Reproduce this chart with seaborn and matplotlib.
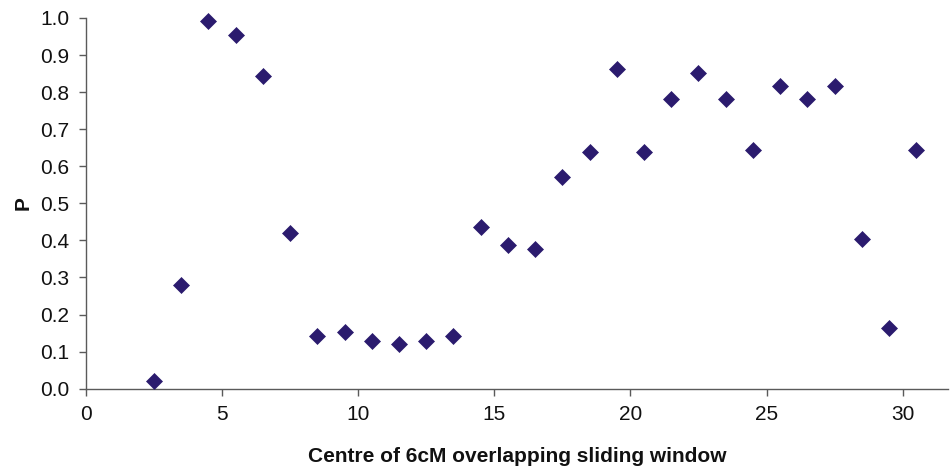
import matplotlib
matplotlib.use("Agg")
import matplotlib.pyplot as plt
import seaborn as sns
import pandas as pd

window_centre = [2.5, 3.5, 4.5, 5.5, 6.5, 7.5, 8.5, 9.5, 10.5, 11.5, 12.5, 13.5,
                 14.5, 15.5, 16.5, 17.5, 18.5, 19.5, 20.5, 21.5, 22.5, 23.5, 24.5,
                 25.5, 26.5, 27.5, 28.5, 29.5, 30.5]
p_values = [0.022, 0.281, 0.993, 0.955, 0.843, 0.419, 0.143, 0.152, 0.129, 0.121,
            0.129, 0.143, 0.437, 0.388, 0.376, 0.570, 0.639, 0.863, 0.639, 0.781,
            0.851, 0.781, 0.644, 0.816, 0.781, 0.816, 0.405, 0.164, 0.644]
x_ticks = [0, 5, 10, 15, 20, 25, 30]
y_ticks = [0.0, 0.1, 0.2, 0.3, 0.4, 0.5, 0.6, 0.7, 0.8, 0.9, 1.0]

sns.set_style("white")
plt.rcParams['font.family'] = ['Liberation Sans', 'DejaVu Sans']

df = pd.DataFrame({"x": window_centre, "p": p_values})

fig = plt.figure(figsize=(9.5, 4.72), dpi=100)
ax = fig.add_axes([0.0905, 0.1765, 0.9075, 0.7855])

sns.scatterplot(data=df, x="x", y="p", marker="D", s=66, color="#2B1B6E",
                edgecolor="#2B1B6E", linewidth=0.5, ax=ax, zorder=3, clip_on=False)

ax.set_xlim(0, 31.67)
ax.set_ylim(0, 1.0)
ax.set_xticks(x_ticks)
ax.set_yticks(y_ticks)
ax.set_yticklabels([f"{v:.1f}" for v in y_ticks])
ax.set_xticklabels([str(v) for v in x_ticks])

for side in ["top", "right"]:
    ax.spines[side].set_visible(False)
for side in ["left", "bottom"]:
    ax.spines[side].set_color("#5a5a5a")
    ax.spines[side].set_linewidth(1.0)

ax.tick_params(axis="both", which="major", direction="out", length=5, width=1,
               color="#5a5a5a", labelsize=15, labelcolor="#111111", pad=7,
               left=True, bottom=True)

ax.set_xlabel("Centre of 6cM overlapping sliding window", fontsize=15,
              fontweight="bold", labelpad=16, color="#111111")
ax.set_ylabel("P", fontsize=15, fontweight="bold", labelpad=5, color="#111111")

fig.savefig("out.png", dpi=100)
